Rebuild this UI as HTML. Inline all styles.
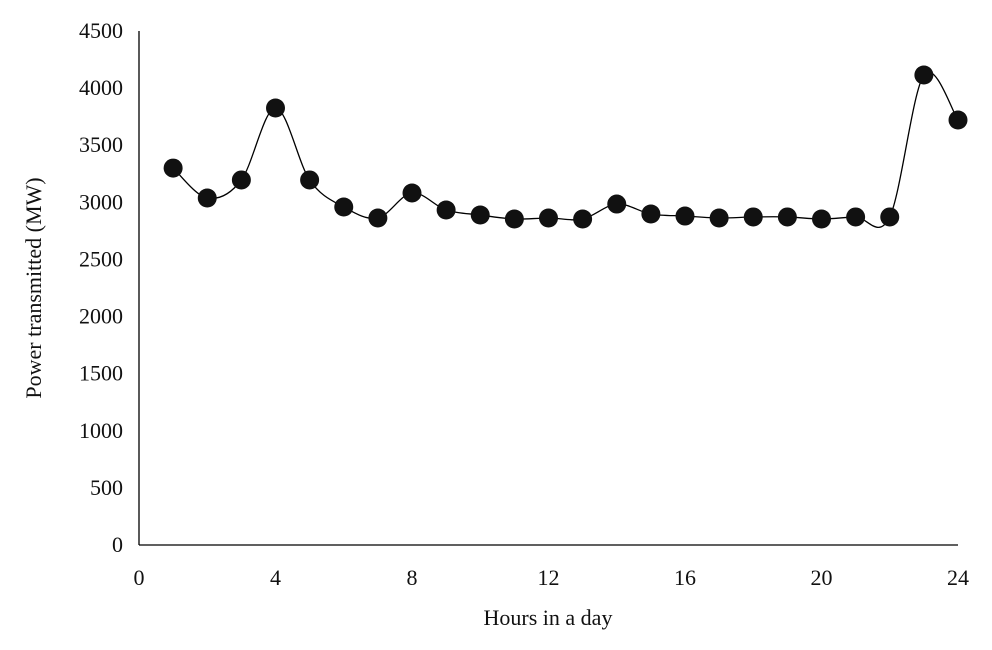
<!DOCTYPE html>
<html><head><meta charset="utf-8"><style>
body{margin:0;background:#fff;}
svg text{font-family:"Liberation Serif",serif;font-size:22px;fill:#111;}
</style></head><body>
<svg width="992" height="645" viewBox="0 0 992 645" xmlns="http://www.w3.org/2000/svg">
<g id="axes"></g>
<g id="plot"></g>
<text x="548" y="625" text-anchor="middle">Hours in a day</text>
<text transform="translate(41,288) rotate(-90)" text-anchor="middle">Power transmitted (MW)</text>
</svg>
<script>
const hours=[1,2,3,4,5,6,7,8,9,10,11,12,13,14,15,16,17,18,19,20,21,22,23,24];
const power=[3300,3038,3196,3826,3196,2959,2863,3082,2933,2889,2854,2863,2854,2985,2898,2880,2863,2872,2872,2854,2872,2872,4115,3721];
const xTicks=[0,4,8,12,16,20,24];
const yTicks=[0,500,1000,1500,2000,2500,3000,3500,4000,4500];
const NS="http://www.w3.org/2000/svg";
const X0=139,X1=958,Y0=545,Y1=31;
const xs=v=>X0+(v/24)*(X1-X0);
const ys=v=>Y0-(v/4500)*(Y0-Y1);
function mk(t,a,p){const e=document.createElementNS(NS,t);for(const k in a)e.setAttribute(k,a[k]);p.appendChild(e);return e;}
const ax=document.getElementById('axes'),pl=document.getElementById('plot');
const yl=mk('line',{x1:X0,y1:Y1,x2:X0,y2:Y0,stroke:'#000','stroke-width':1.3},ax);


const xl=mk('line',{x1:X0,y1:Y0,x2:X1,y2:Y0,stroke:'#000','stroke-width':1.3},ax);


yTicks.forEach(v=>{const t=mk('text',{x:123,y:ys(v)+7,'text-anchor':'end'},ax);t.textContent=v;

});
xTicks.forEach(v=>{const t=mk('text',{x:xs(v),y:585,'text-anchor':'middle'},ax);t.textContent=v;

});
const P=hours.map((h,i)=>[xs(h),ys(power[i])]);
let d=`M${P[0][0]},${P[0][1]}`;const k=1/6;
for(let i=0;i<P.length-1;i++){const p0=P[Math.max(0,i-1)],p1=P[i],p2=P[i+1],p3=P[Math.min(P.length-1,i+2)];
d+=` C${p1[0]+(p2[0]-p0[0])*k},${p1[1]+(p2[1]-p0[1])*k} ${p2[0]-(p3[0]-p1[0])*k},${p2[1]-(p3[1]-p1[1])*k} ${p2[0]},${p2[1]}`;}
const ln=mk('path',{d:d,fill:'none',stroke:'#000','stroke-width':1.3},pl);


P.forEach(p=>{const c=mk('circle',{cx:p[0],cy:p[1],r:9.5,fill:'#111'},pl);

});
</script>
</body></html>
